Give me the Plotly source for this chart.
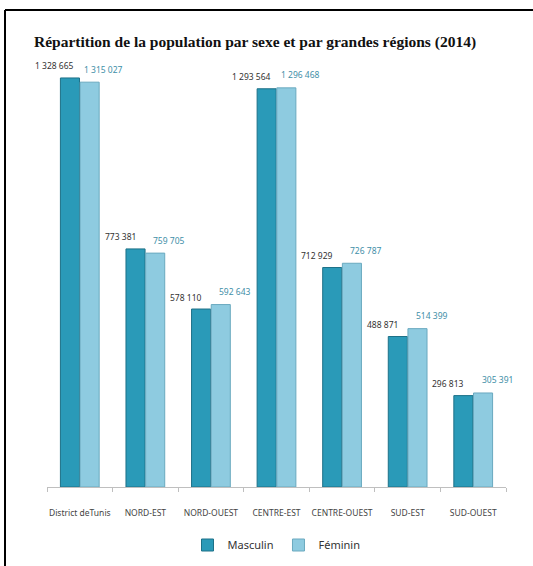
import plotly.graph_objects as go

regions = ["District deTunis", "NORD-EST", "NORD-OUEST", "CENTRE-EST", "CENTRE-OUEST", "SUD-EST", "SUD-OUEST"]
masculin = [1328665, 773381, 578110, 1293564, 712929, 488871, 296813]
feminin = [1315027, 759705, 592643, 1296468, 726787, 514399, 305391]

def fmt(v):
    return f"{v:,}".replace(",", " ")

c_m = "#2a9ab8"
c_f = "#8ecbe0"

L, R, T, B = 47, 27, 56, 79
PW = 533 - L - R
PH = 566 - T - B

fig = go.Figure()
fig.add_trace(go.Bar(name="Masculin", x=regions, y=masculin,
                     marker=dict(color=c_m, line=dict(color="#1d7188", width=1))))
fig.add_trace(go.Bar(name="Féminin", x=regions, y=feminin,
                     marker=dict(color=c_f, line=dict(color="#6aa9bf", width=1))))

ann = []
for i, r in enumerate(regions):
    ann.append(dict(x=r, y=masculin[i], xref="x", yref="y", text=fmt(masculin[i]),
                    showarrow=False, xshift=-25, yshift=12,
                    font=dict(family="Noto Sans", size=8.5, color="#333333")))
    ann.append(dict(x=r, y=feminin[i], xref="x", yref="y", text=fmt(feminin[i]),
                    showarrow=False, xshift=24, yshift=13,
                    font=dict(family="Noto Sans", size=8.5, color="#3f8fa8")))

fig.update_layout(
    width=533, height=566,
    margin=dict(l=L, r=R, t=T, b=B, autoexpand=False),
    paper_bgcolor="white", plot_bgcolor="white",
    barmode="group", bargap=0.4, bargroupgap=0.03,
    title=dict(text="<b>Répartition de la population par sexe et par grandes régions (2014)</b>",
               x=34/533, xanchor="left", y=1-42/566, yanchor="middle",
               font=dict(family="Liberation Serif", size=15.5, color="#111111")),
    xaxis=dict(range=[-0.5, len(regions) - 0.5], autorange=False,
               showline=True, linecolor="#bfbfbf", linewidth=1, ticks="outside",
               tickson="boundaries", ticklen=4, tickcolor="#bfbfbf", tickangle=0,
               automargin=False, ticklabelstandoff=18,
               tickfont=dict(family="Noto Sans", size=8.5, color="#444444")),
    yaxis=dict(range=[0, 1400000], autorange=False, visible=False, showgrid=False, automargin=False),
    legend=dict(orientation="h", x=0.5, xanchor="center", y=-(545 - (T + PH)) / PH, yanchor="middle",
                font=dict(family="Noto Sans", size=11, color="#333333"),
                itemwidth=30, traceorder="normal"),
    annotations=ann,
    showlegend=True,
    shapes=[
        dict(type="line", xref="paper", yref="paper", x0=(5 - L) / PW, x1=(533 - L) / PW,
             y0=(T + PH - 10) / PH, y1=(T + PH - 10) / PH, line=dict(color="black", width=2)),
        dict(type="line", xref="paper", yref="paper", x0=(5 - L) / PW, x1=(5 - L) / PW,
             y0=(T + PH - 10) / PH, y1=(T + PH - 570) / PH, line=dict(color="black", width=2)),
    ],
)

fig.write_html("out.html", config={"displayModeBar": False},
               post_script="document.body.style.margin='0';")
